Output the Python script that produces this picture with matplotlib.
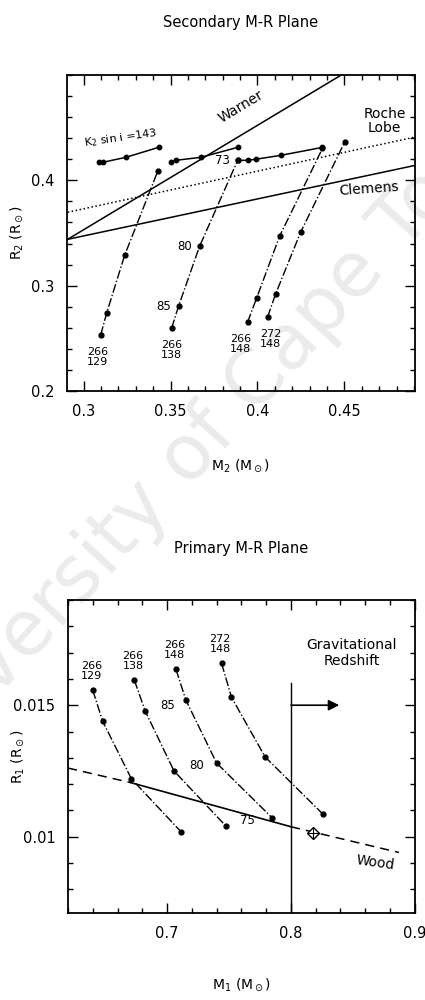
import matplotlib
matplotlib.use("Agg")
import matplotlib.pyplot as plt
from matplotlib.ticker import MultipleLocator, FixedLocator, FixedFormatter

# ---- secondary M-R plane ----
# tracks for each K1 / K2 pair, points at i = 90, 85, 80, 73
sec_labels = ["266\n129", "266\n138", "266\n148", "272\n148"]
sec_m2 = [
    [0.3098, 0.3132, 0.3236, 0.3426],
    [0.3506, 0.3546, 0.3667, 0.3886],
    [0.3943, 0.3995, 0.4127, 0.4374],
    [0.4058, 0.4104, 0.4248, 0.4501],
]
sec_r2 = [
    [0.2531, 0.2739, 0.3289, 0.4086],
    [0.2597, 0.2806, 0.3375, 0.4190],
    [0.2654, 0.2882, 0.3469, 0.4304],
    [0.2702, 0.2920, 0.3507, 0.4361],
]
incl_labels = ["85", "80", "73"]

# K2 sin i = 143 segments
ksin_m2 = [
    [0.3086, 0.3109, 0.3242, 0.3431],
    [0.3500, 0.3529, 0.3673, 0.3886],
    [0.3886, 0.3943, 0.3989, 0.4133, 0.4374],
]
ksin_r2 = [
    [0.4171, 0.4171, 0.4218, 0.4313],
    [0.4171, 0.4190, 0.4218, 0.4313],
    [0.4190, 0.4190, 0.4200, 0.4237, 0.4313],
]

# empirical relations
warner_m2 = [0.2908, 0.4478]
warner_r2 = [0.3440, 0.4996]
clemens_m2 = [0.2908, 0.4910]
clemens_r2 = [0.3440, 0.4143]
roche_m2 = [0.2908, 0.4898]
roche_r2 = [0.3697, 0.4408]

# ---- primary M-R plane ----
pri_labels = ["266\n129", "266\n138", "266\n148", "272\n148"]
pri_m1 = [
    [0.6400, 0.6480, 0.6712, 0.7112],
    [0.6736, 0.6824, 0.7056, 0.7472],
    [0.7072, 0.7152, 0.7400, 0.7848],
    [0.7440, 0.7520, 0.7792, 0.8256],
]
pri_r1 = [
    [0.01557, 0.01439, 0.01220, 0.01019],
    [0.01595, 0.01477, 0.01250, 0.01042],
    [0.01636, 0.01519, 0.01280, 0.01072],
    [0.01659, 0.01530, 0.01303, 0.01087],
]
pri_incl = ["85", "80", "75"]

wood_m1 = [0.6200, 0.6712, 0.8000, 0.8872]
wood_r1 = [0.01261, 0.01205, 0.01038, 0.00940]
wood_pt = (0.8176, 0.01015)
redshift_m1 = 0.80
redshift_top = 0.01583

plt.rcParams["font.family"] = ["DejaVu Sans"]
plt.rcParams["mathtext.fontset"] = "dejavusans"

fig = plt.figure(figsize=(4.25, 10), dpi=100)

# faint watermark of the scan, kept behind everything
fig.text(0.487, 0.562, "University of Cape Town", fontsize=55, color="#ebebeb",
         rotation=47.6, ha="center", va="center", rotation_mode="anchor", zorder=-5)

TICK = 10.5


def style_axes(ax):
    ax.set_facecolor("none")
    ax.tick_params(which="both", direction="in", top=True, right=True,
                   labelsize=TICK, pad=9, width=1)
    ax.tick_params(which="major", length=7)
    ax.tick_params(which="minor", length=3.5)
    for s in ax.spines.values():
        s.set_linewidth(1.3)


# top panel
ax1 = fig.add_axes([0.158, 0.609, 0.818, 0.316])
style_axes(ax1)
ax1.set_xlim(0.2905, 0.4905)
ax1.set_ylim(0.2, 0.5)
ax1.xaxis.set_major_locator(FixedLocator([0.3, 0.35, 0.4, 0.45]))
ax1.xaxis.set_major_formatter(FixedFormatter(["0.3", "0.35", "0.4", "0.45"]))
ax1.xaxis.set_minor_locator(MultipleLocator(0.01))
ax1.yaxis.set_major_locator(FixedLocator([0.2, 0.3, 0.4]))
ax1.yaxis.set_major_formatter(FixedFormatter(["0.2", "0.3", "0.4"]))
ax1.yaxis.set_minor_locator(MultipleLocator(0.02))

ax1.plot(warner_m2, warner_r2, "-", color="black", lw=1.1)
ax1.plot(clemens_m2, clemens_r2, "-", color="black", lw=1.1)
ax1.plot(roche_m2, roche_r2, ":", color="black", lw=1.1)

for m, r in zip(sec_m2, sec_r2):
    ax1.plot(m, r, "-.", color="black", lw=1.0, marker="o", ms=3.5)
for m, r in zip(ksin_m2, ksin_r2):
    ax1.plot(m, r, "-", color="black", lw=1.1, marker="o", ms=3.2)

sec_shift = [-2, 0, -5, 2]
for lab, m, r, dx in zip(sec_labels, sec_m2, sec_r2, sec_shift):
    ax1.annotate(lab, (m[0], r[0]), xytext=(dx, -16), textcoords="offset points",
                 fontsize=8, ha="center", va="center", linespacing=1.0)
for lab, m, r in zip(incl_labels, sec_m2[1][1:], sec_r2[1][1:]):
    ax1.text(m - 0.0045, r, lab, fontsize=8.5, ha="right", va="center")

ax1.text(0.3213, 0.4405, r"K$_2$ sin i =143", fontsize=8, rotation=8,
         ha="center", va="center")
ax1.text(0.3905, 0.4700, "Warner", fontsize=10, rotation=31, ha="center", va="center")
ax1.text(0.4730, 0.4560, "Roche\nLobe", fontsize=10, ha="center", va="center",
         linespacing=1.0)
ax1.text(0.4640, 0.3920, "Clemens", fontsize=10, rotation=4, ha="center", va="center")

ax1.set_xlabel(r"M$_2$ (M$_\odot$)", fontsize=10, labelpad=28)
ax1.set_ylabel(r"R$_2$ (R$_\odot$)", fontsize=10)
ax1.yaxis.set_label_coords(-0.12, 0.5)
fig.text(0.565, 0.978, "Secondary M-R Plane", fontsize=10.5, ha="center", va="center")

# bottom panel
ax2 = fig.add_axes([0.16, 0.087, 0.816, 0.313])
style_axes(ax2)
ax2.set_xlim(0.62, 0.9)
ax2.set_ylim(0.0071, 0.0190)
ax2.xaxis.set_major_locator(FixedLocator([0.7, 0.8, 0.9]))
ax2.xaxis.set_major_formatter(FixedFormatter(["0.7", "0.8", "0.9"]))
ax2.xaxis.set_minor_locator(MultipleLocator(0.02))
ax2.yaxis.set_major_locator(FixedLocator([0.01, 0.015]))
ax2.yaxis.set_major_formatter(FixedFormatter(["0.01", "0.015"]))
ax2.yaxis.set_minor_locator(MultipleLocator(0.001))

for m, r in zip(pri_m1, pri_r1):
    ax2.plot(m, r, "-.", color="black", lw=1.0, marker="o", ms=3.5)
for lab, m, r in zip(pri_labels, pri_m1, pri_r1):
    ax2.annotate(lab, (m[0], r[0]), xytext=(-1, 14), textcoords="offset points",
                 fontsize=8, ha="center", va="center", linespacing=1.0)
for lab, m, r in zip(pri_incl, pri_m1[1][1:], pri_r1[1][1:]):
    ax2.text(m + 0.012, r + 0.0002, lab, fontsize=8.5, ha="left", va="center")

ax2.plot(wood_m1[:2], wood_r1[:2], "--", color="black", lw=1.1, dashes=(6, 4))
ax2.plot(wood_m1[1:3], wood_r1[1:3], "-", color="black", lw=1.2)
ax2.plot(wood_m1[2:], wood_r1[2:], "--", color="black", lw=1.1, dashes=(6, 4))
ax2.plot(*wood_pt, marker="D", ms=6, mfc="white", mec="black", mew=1.0)
ax2.plot(*wood_pt, marker="+", ms=8, color="black", mew=0.8)
ax2.text(0.8680, 0.0090, "Wood", fontsize=10, rotation=-8, ha="center", va="center")

ax2.plot([redshift_m1, redshift_m1], [0.0071, redshift_top], "-", color="black", lw=1.0)
ax2.annotate("", xy=(0.839, 0.0150), xytext=(redshift_m1, 0.0150),
             arrowprops=dict(arrowstyle="-|>", color="black", lw=1.2,
                             mutation_scale=16, shrinkA=0, shrinkB=0))
ax2.text(0.8490, 0.0170, "Gravitational\nRedshift", fontsize=10, ha="center",
         va="center", linespacing=1.2)

ax2.set_xlabel(r"M$_1$ (M$_\odot$)", fontsize=10, labelpad=26)
ax2.set_ylabel(r"R$_1$ (R$_\odot$)", fontsize=10)
ax2.yaxis.set_label_coords(-0.12, 0.5)
fig.text(0.567, 0.452, "Primary M-R Plane", fontsize=10.5, ha="center", va="center")

fig.savefig("out.png", dpi=100)
